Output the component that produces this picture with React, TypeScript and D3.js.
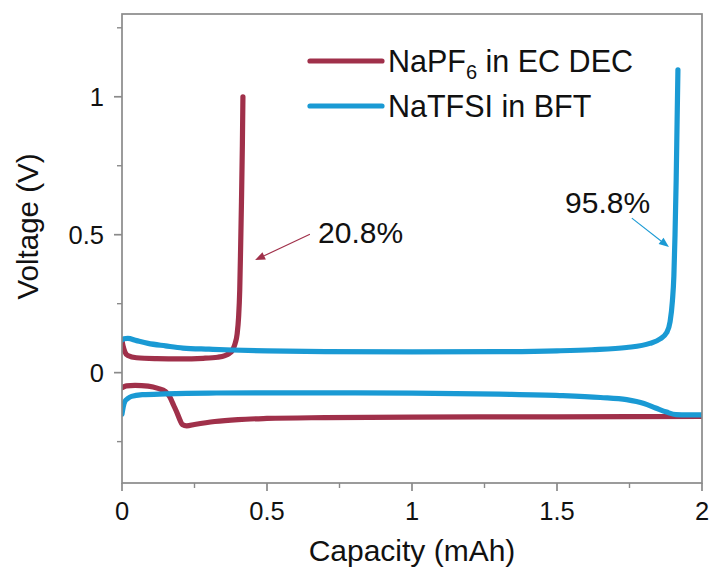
import React from "react";
import * as d3 from "d3";

type Pt = [number, number];

// Capacity (mAh) / voltage (V) pairs for each sweep
const naPF6Charge: Pt[] = [
  [0, 0.116], [0.004, 0.095], [0.01, 0.075], [0.02, 0.062], [0.05, 0.054],
  [0.12, 0.051], [0.2, 0.05], [0.28, 0.052], [0.33, 0.056], [0.355, 0.062],
  [0.37, 0.07], [0.38, 0.08], [0.39, 0.105], [0.397, 0.14], [0.402, 0.2],
  [0.406, 0.3], [0.409, 0.45], [0.412, 0.62], [0.415, 0.82], [0.417, 1.0],
];
const naPF6Discharge: Pt[] = [
  [0, -0.055], [0.015, -0.048], [0.045, -0.046], [0.09, -0.049], [0.124, -0.057],
  [0.15, -0.068], [0.165, -0.088], [0.178, -0.118], [0.19, -0.146], [0.2, -0.172],
  [0.208, -0.188], [0.223, -0.193], [0.25, -0.188], [0.32, -0.177], [0.4, -0.17],
  [0.5, -0.166], [0.7, -0.163], [1.0, -0.161], [1.5, -0.16], [2.0, -0.159],
];
const naTFSICharge: Pt[] = [
  [0, 0.118], [0.006, 0.123], [0.02, 0.124], [0.05, 0.116], [0.09, 0.106],
  [0.15, 0.097], [0.21, 0.089], [0.3, 0.085], [0.38, 0.082], [0.5, 0.079],
  [0.7, 0.076], [1.0, 0.075], [1.3, 0.076], [1.5, 0.079], [1.62, 0.083],
  [1.74, 0.091], [1.82, 0.106], [1.855, 0.122], [1.878, 0.145], [1.89, 0.185],
  [1.898, 0.26], [1.903, 0.35], [1.907, 0.5], [1.911, 0.7], [1.914, 0.9],
  [1.917, 1.098],
];
const naTFSIDischarge: Pt[] = [
  [0, -0.15], [0.004, -0.125], [0.01, -0.104], [0.02, -0.094], [0.033, -0.086],
  [0.07, -0.08], [0.15, -0.077], [0.3, -0.074], [0.5, -0.073], [1.0, -0.074],
  [1.3, -0.078], [1.51, -0.083], [1.65, -0.09], [1.74, -0.098], [1.8, -0.112],
  [1.84, -0.128], [1.878, -0.143], [1.91, -0.152], [1.95, -0.153], [2.0, -0.153],
];

const xMajorTicks = [0, 0.5, 1, 1.5, 2];
const xMinorTicks = [0.25, 0.75, 1.25, 1.75];
const yMajorTicks = [0, 0.5, 1];
const yMinorTicks = [-0.25, 0.25, 0.75, 1.25];

const legendLabels = ["NaPF", "NaTFSI in BFT"];

// Coulombic efficiency callouts: label text, label anchor, arrow tail, arrow head
const efficiencyLabels = ["20.8%", "95.8%"];
const labelAnchors: Pt[] = [[0.676, 0.47], [1.528, 0.579]];
const arrowTails: Pt[] = [[0.648, 0.502], [1.758, 0.56]];
const arrowHeads: Pt[] = [[0.459, 0.408], [1.886, 0.455]];

const RED = "#a0304a";
const BLUE = "#1a9ad4";
const AXIS = "#8a8a8a";
const FONT = "'Liberation Sans', Arial, Helvetica, sans-serif";

const W = 714;
const H = 579;
const M = { left: 122, right: 12, top: 14, bottom: 96 };

export default function App() {
  const x = d3.scaleLinear().domain([0, 2]).range([M.left, W - M.right]);
  const y = d3.scaleLinear().domain([-0.4, 1.3]).range([H - M.bottom, M.top]);

  const line = d3
    .line<Pt>()
    .x((d) => x(d[0]))
    .y((d) => y(d[1]))
    .curve(d3.curveMonotoneX);

  const x0 = x(0);
  const x1 = x(2);
  const y0 = y(-0.4);
  const y1 = y(1.3);

  const series = [
    { data: naPF6Charge, color: RED },
    { data: naPF6Discharge, color: RED },
    { data: naTFSICharge, color: BLUE },
    { data: naTFSIDischarge, color: BLUE },
  ];
  const arrowColors = [RED, BLUE];

  return (
    <svg
      width={W}
      height={H}
      style={{ position: "absolute", left: 0, top: 0, background: "#fff" }}
      fontFamily={FONT}
    >
      <rect x={0} y={0} width={W} height={H} fill="#fff" />
      <defs>
        <clipPath id="plot-area">
          <rect x={x0} y={y1} width={x1 - x0} height={y0 - y1} />
        </clipPath>
      </defs>

      {/* curves */}
      <g clipPath="url(#plot-area)">
        {series.map((s, i) => (
          <path
            key={i}
            d={line(s.data) || ""}
            fill="none"
            stroke={s.color}
            strokeWidth={5.2}
            strokeLinecap="round"
            strokeLinejoin="round"
          />
        ))}
      </g>

      {/* frame */}
      <rect x={x0} y={y1} width={x1 - x0} height={y0 - y1} fill="none" stroke={AXIS} strokeWidth={1.7} />

      {/* x ticks */}
      {xMajorTicks.map((t) => (
        <g key={"xM" + t}>
          <line x1={x(t)} x2={x(t)} y1={y0} y2={y0 + 8} stroke={AXIS} strokeWidth={1.7} />
          <text x={x(t)} y={y0 + 37} textAnchor="middle" fontSize={25.5} fill="#111">
            {String(t)}
          </text>
        </g>
      ))}
      {xMinorTicks.map((t) => (
        <line key={"xm" + t} x1={x(t)} x2={x(t)} y1={y0} y2={y0 + 5} stroke={AXIS} strokeWidth={1.4} />
      ))}

      {/* y ticks */}
      {yMajorTicks.map((t) => (
        <g key={"yM" + t}>
          <line x1={x0 - 8} x2={x0} y1={y(t)} y2={y(t)} stroke={AXIS} strokeWidth={1.7} />
          <text x={x0 - 18} y={y(t) + 9} textAnchor="end" fontSize={25.5} fill="#111">
            {String(t)}
          </text>
        </g>
      ))}
      {yMinorTicks.map((t) => (
        <line key={"ym" + t} x1={x0 - 5} x2={x0} y1={y(t)} y2={y(t)} stroke={AXIS} strokeWidth={1.4} />
      ))}

      {/* axis titles */}
      <text x={(x0 + x1) / 2} y={561} textAnchor="middle" fontSize={30} fill="#111">
        Capacity (mAh)
      </text>
      <text
        transform={`translate(38, ${(y0 + y1) / 2 - 22}) rotate(-90)`}
        textAnchor="middle"
        fontSize={29.5}
        fill="#111"
      >
        Voltage (V)
      </text>

      {/* legend */}
      <line x1={310} x2={382} y1={61} y2={61} stroke={RED} strokeWidth={5.2} strokeLinecap="round" />
      <text x={388} y={72} fontSize={30.5} fill="#111">
        {legendLabels[0]}
        <tspan fontSize={20} dy={7}>6</tspan>
        <tspan dy={-7}> in EC DEC</tspan>
      </text>
      <line x1={310} x2={382} y1={106} y2={106} stroke={BLUE} strokeWidth={5.2} strokeLinecap="round" />
      <text x={388} y={117} fontSize={30.5} fill="#111">
        {legendLabels[1]}
      </text>

      {/* efficiency callouts */}
      {efficiencyLabels.map((label, i) => {
        const [tx, ty] = arrowTails[i];
        const [hx, hy] = arrowHeads[i];
        const px0 = x(tx), py0 = y(ty), px1 = x(hx), py1 = y(hy);
        const ang = Math.atan2(py1 - py0, px1 - px0);
        const len = 10, half = 4;
        const bx = px1 - len * Math.cos(ang);
        const by = py1 - len * Math.sin(ang);
        const head = [
          [px1, py1],
          [bx + half * Math.sin(ang), by - half * Math.cos(ang)],
          [bx - half * Math.sin(ang), by + half * Math.cos(ang)],
        ]
          .map((p) => p.join(","))
          .join(" ");
        return (
          <g key={label}>
            <line x1={px0} y1={py0} x2={bx} y2={by} stroke={arrowColors[i]} strokeWidth={1.1} />
            <polygon points={head} fill={arrowColors[i]} />
            <text x={x(labelAnchors[i][0])} y={y(labelAnchors[i][1])} fontSize={30} fill="#111">
              {label}
            </text>
          </g>
        );
      })}
    </svg>
  );
}
